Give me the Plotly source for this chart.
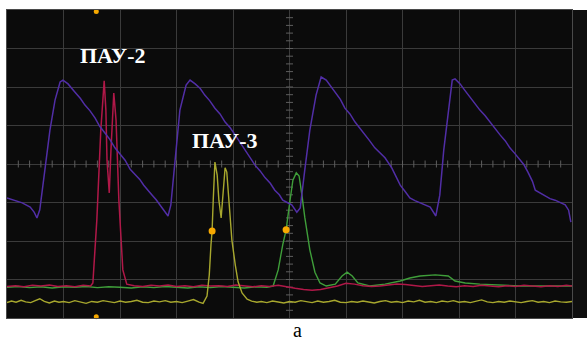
import numpy as np
import plotly.graph_objects as go

# Oscilloscope capture: time and amplitude both in screen divisions
# (10 horizontal x 8 vertical).

# Channel 1 (violet) - sawtooth reference
ch1_t = [0.00, 0.14, 0.27, 0.41, 0.48, 0.53, 0.58, 0.67, 0.76, 0.85, 0.94, 0.99,
         1.08, 1.20, 1.30, 1.38, 1.47, 1.56, 1.64, 1.73, 1.82, 1.91, 2.00, 2.09,
         2.18, 2.27, 2.35, 2.42, 2.50, 2.57, 2.64, 2.71, 2.81, 2.85, 2.90, 2.97,
         3.06, 3.17, 3.24, 3.33, 3.42, 3.50, 3.59, 3.68, 3.77, 3.86, 3.95, 4.04,
         4.12, 4.21, 4.30, 4.39, 4.48, 4.57, 4.66, 4.74, 4.82, 4.88, 4.96, 5.04,
         5.13, 5.19, 5.27, 5.36, 5.47, 5.56, 5.65, 5.73, 5.81, 5.90, 5.98, 6.07,
         6.16, 6.25, 6.34, 6.42, 6.51, 6.60, 6.69, 6.81, 6.90, 6.96, 7.05, 7.13,
         7.22, 7.31, 7.40, 7.49, 7.59, 7.66, 7.73, 7.81, 7.88, 7.93, 8.02, 8.10,
         8.19, 8.28, 8.37, 8.46, 8.55, 8.64, 8.73, 8.82, 8.90, 8.99, 9.08, 9.15,
         9.22, 9.30, 9.35, 9.44, 9.52, 9.61, 9.70, 9.79, 9.88, 9.94, 9.98]
ch1_v = [3.12, 3.06, 2.99, 2.88, 2.75, 2.60, 2.81, 3.84, 4.88, 5.66, 6.13, 6.18,
         6.08, 5.87, 5.70, 5.53, 5.38, 5.19, 4.98, 4.81, 4.64, 4.42, 4.27, 4.10,
         3.86, 3.71, 3.60, 3.45, 3.30, 3.19, 3.07, 2.94, 2.75, 2.65, 2.94, 4.10,
         5.40, 6.05, 6.18, 6.08, 5.96, 5.79, 5.64, 5.45, 5.30, 5.09, 4.94, 4.75,
         4.57, 4.36, 4.19, 3.97, 3.82, 3.64, 3.50, 3.32, 3.20, 3.06, 3.00, 2.94,
         2.75, 2.86, 3.84, 4.88, 5.79, 6.26, 6.18, 6.02, 5.87, 5.68, 5.45, 5.30,
         5.09, 4.93, 4.75, 4.60, 4.42, 4.30, 4.16, 3.90, 3.62, 3.45, 3.28, 3.12,
         3.05, 2.99, 2.95, 2.88, 2.65, 3.19, 4.36, 5.40, 6.18, 6.21, 6.08, 5.92,
         5.74, 5.58, 5.40, 5.26, 5.09, 4.90, 4.75, 4.60, 4.42, 4.27, 4.10, 3.98,
         3.79, 3.55, 3.32, 3.24, 3.17, 3.10, 3.06, 3.00, 2.94, 2.80, 2.49]

# Channel 2 (crimson) - ПАУ-2 double pulse
ch2_t = [0.00, 0.15, 0.30, 0.45, 0.60, 0.75, 0.90, 1.05, 1.20, 1.35, 1.48,
         1.52, 1.59, 1.66, 1.72, 1.75, 1.77, 1.81, 1.84, 1.89, 1.93, 1.98,
         2.05, 2.12, 2.25, 2.40, 2.55, 2.70, 2.85, 3.00, 3.15, 3.30, 3.45,
         3.60, 3.75, 3.90, 4.05, 4.20, 4.35, 4.50, 4.65, 4.80, 4.95, 5.10,
         5.25, 5.40, 5.55, 5.70, 5.85, 6.00, 6.15, 6.30, 6.45, 6.60, 6.75,
         6.90, 7.05, 7.20, 7.35, 7.50, 7.65, 7.80, 7.95, 8.10, 8.25, 8.40,
         8.55, 8.70, 8.85, 9.00, 9.15, 9.30, 9.45, 9.60, 9.75, 9.90, 10.00]
ch2_v = [0.82, 0.84, 0.81, 0.85, 0.83, 0.86, 0.82, 0.84, 0.81, 0.85, 0.83,
         0.91, 2.55, 4.88, 6.16, 5.40, 4.10, 3.25, 4.36, 5.84, 5.14, 3.06,
         1.25, 0.88, 0.84, 0.82, 0.85, 0.83, 0.86, 0.82, 0.84, 0.81, 0.85,
         0.83, 0.84, 0.82, 0.86, 0.83, 0.81, 0.84, 0.82, 0.85, 0.80, 0.77,
         0.74, 0.72, 0.74, 0.78, 0.83, 0.90, 0.88, 0.84, 0.82, 0.83, 0.85,
         0.88, 0.87, 0.85, 0.82, 0.84, 0.86, 0.83, 0.81, 0.84, 0.82, 0.85,
         0.83, 0.81, 0.84, 0.82, 0.85, 0.83, 0.81, 0.84, 0.82, 0.85, 0.83]

# Channel 3 (yellow) - ПАУ-3 double pulse
ch3_t = [0.00, 0.08, 0.16, 0.25, 0.33, 0.42, 0.50, 0.58, 0.66, 0.75, 0.84,
         0.92, 1.00, 1.10, 1.20, 1.30, 1.40, 1.50, 1.60, 1.70, 1.80, 1.90,
         2.00, 2.10, 2.20, 2.30, 2.40, 2.50, 2.60, 2.70, 2.80, 2.90, 3.00,
         3.10, 3.20, 3.30, 3.40, 3.47,
         3.54, 3.58, 3.61, 3.63, 3.65, 3.68, 3.72, 3.75, 3.79, 3.82, 3.86,
         3.89, 3.93, 3.98, 4.04, 4.09, 4.16, 4.25, 4.33,
         4.42, 4.50, 4.60, 4.70, 4.80, 4.90, 5.00, 5.10, 5.20, 5.30, 5.40,
         5.50, 5.60, 5.70, 5.80, 5.90, 6.00, 6.10, 6.20, 6.30, 6.40, 6.50,
         6.60, 6.70, 6.80, 6.90, 7.00, 7.10, 7.20, 7.30, 7.40, 7.50, 7.60,
         7.70, 7.80, 7.90, 8.00, 8.10, 8.20, 8.30, 8.40, 8.50, 8.60, 8.70,
         8.80, 8.90, 9.00, 9.10, 9.20, 9.30, 9.40, 9.50, 9.60, 9.70, 9.80,
         9.90, 10.00]
ch3_v = [0.40, 0.44, 0.41, 0.46, 0.42, 0.40, 0.45, 0.50, 0.43, 0.39, 0.44,
         0.41, 0.43, 0.40, 0.45, 0.42, 0.38, 0.43, 0.41, 0.45, 0.42, 0.40,
         0.44, 0.41, 0.43, 0.46, 0.41, 0.40, 0.44, 0.42, 0.45, 0.41, 0.43,
         0.40, 0.44, 0.48, 0.41, 0.38,
         0.57, 1.12, 1.90, 2.26, 3.06, 4.05, 3.71, 3.06, 2.60, 3.19, 3.90,
         3.79, 2.94, 2.03, 1.38, 0.94, 0.65, 0.49, 0.44,
         0.41, 0.43, 0.40, 0.44, 0.42, 0.39, 0.43, 0.41, 0.45, 0.42, 0.40,
         0.44, 0.41, 0.43, 0.46, 0.41, 0.40, 0.43, 0.41, 0.44, 0.42, 0.39,
         0.43, 0.45, 0.41, 0.43, 0.40, 0.44, 0.42, 0.46, 0.41, 0.43, 0.40,
         0.44, 0.42, 0.45, 0.41, 0.43, 0.40, 0.44, 0.47, 0.42, 0.40, 0.43,
         0.41, 0.44, 0.42, 0.40, 0.43, 0.45, 0.41, 0.43, 0.40, 0.44, 0.42,
         0.41, 0.43]

# Channel 4 (green) - delayed response
ch4_t = [0.00, 0.20, 0.40, 0.60, 0.80, 1.00, 1.20, 1.40, 1.60, 1.80, 2.00,
         2.20, 2.40, 2.60, 2.80, 3.00, 3.20, 3.40, 3.60, 3.80, 4.00, 4.20,
         4.40, 4.60, 4.71, 4.80, 4.88, 4.94, 5.01, 5.06, 5.12, 5.17, 5.22,
         5.27, 5.36, 5.45, 5.54, 5.65, 5.81, 5.93, 6.02, 6.11, 6.21, 6.42,
         6.69, 6.96, 7.13, 7.31, 7.58, 7.81, 7.93, 8.11, 8.37, 8.73, 9.08,
         9.52, 10.00]
ch4_v = [0.80, 0.82, 0.79, 0.81, 0.78, 0.81, 0.80, 0.82, 0.79, 0.81, 0.80,
         0.78, 0.81, 0.79, 0.82, 0.80, 0.78, 0.81, 0.79, 0.82, 0.80, 0.78,
         0.81, 0.80, 0.83, 1.25, 1.90, 2.29, 3.06, 3.58, 3.77, 3.69, 3.19,
         2.62, 1.77, 1.19, 0.91, 0.83, 0.88, 1.09, 1.19, 1.09, 0.91, 0.83,
         0.88, 0.96, 1.04, 1.09, 1.12, 1.09, 0.96, 0.91, 0.88, 0.86, 0.83,
         0.83, 0.83]

# Cursor / trigger markers
cursor_t = [3.63, 4.94]
cursor_v = [2.26, 2.29]
trig_t = [1.58, 1.58]
trig_v = [7.96, 0.03]

labels = ["ПАУ-2", "ПАУ-3"]
label_t = [1.87, 3.86]
label_v = [6.81, 4.62]

SERIF = "Liberation Serif"

fig = go.Figure()

# graticule centre-line subdivisions
sub_x = np.arange(0.2, 10.0, 0.2)
sub_y = np.arange(0.2, 8.0, 0.2)
fig.add_trace(go.Scatter(x=sub_x, y=[4] * len(sub_x), mode="markers",
                         marker=dict(symbol="line-ns", size=5,
                                     line=dict(color="#5e5e5e", width=1)),
                         hoverinfo="skip"))
fig.add_trace(go.Scatter(x=[5] * len(sub_y), y=sub_y, mode="markers",
                         marker=dict(symbol="line-ew", size=5,
                                     line=dict(color="#5e5e5e", width=1)),
                         hoverinfo="skip"))

fig.add_trace(go.Scatter(x=ch4_t, y=ch4_v, mode="lines",
                         line=dict(color="#3f9e3a", width=1.4)))
fig.add_trace(go.Scatter(x=ch2_t, y=ch2_v, mode="lines",
                         line=dict(color="#b01848", width=1.5)))
fig.add_trace(go.Scatter(x=ch3_t, y=ch3_v, mode="lines",
                         line=dict(color="#a8a82e", width=1.4)))
fig.add_trace(go.Scatter(x=ch1_t, y=ch1_v, mode="lines",
                         line=dict(color="#512ea6", width=1.5)))

fig.add_trace(go.Scatter(x=cursor_t, y=cursor_v, mode="markers",
                         marker=dict(color="#f7a900", size=7)))
fig.add_trace(go.Scatter(x=trig_t, y=trig_v, mode="markers", cliponaxis=False,
                         marker=dict(color="#f7a900", size=5)))

# channel tags in the right-hand strip
tag_t = [10.12, 10.12, 10.23, 10.12, 10.12]
tag_v = [3.30, 1.71, 1.71, 0.75, 0.36]
tag_c = ["#7a3cf0", "#d8205a", "#d8205a", "#e8d8e0", "#e0e030"]
fig.add_trace(go.Scatter(x=tag_t, y=tag_v, mode="markers", cliponaxis=False,
                         marker=dict(color=tag_c, size=5)))

for txt, t, v in zip(labels, label_t, label_v):
    fig.add_annotation(x=t, y=v, text="<b>" + txt + "</b>", showarrow=False,
                       font=dict(family=SERIF, size=22, color="white"))

fig.add_annotation(xref="paper", yref="paper", x=0.515, y=-0.040,
                   text="а", showarrow=False, yanchor="middle",
                   font=dict(family=SERIF, size=20, color="black"))

# dark side panel of the scope screen
fig.add_shape(type="rect", xref="paper", yref="paper", x0=1.0,
              x1=1 + 15 / 565, y0=0, y1=1, fillcolor="#0f0f0f",
              line=dict(width=0), layer="below")

axis_common = dict(showgrid=True, gridcolor="#3b3b3b", gridwidth=1,
                   zeroline=False, showticklabels=False, ticks="",
                   showline=True, linecolor="#4a4a4a", linewidth=1,
                   mirror=True, fixedrange=True)
fig.update_layout(
    width=587, height=341,
    margin=dict(l=7, r=15, t=10, b=23),
    paper_bgcolor="white", plot_bgcolor="#0b0b0b",
    showlegend=False,
    xaxis=dict(range=[0, 10], dtick=1, **axis_common),
    yaxis=dict(range=[0, 8], dtick=1, **axis_common),
)

fig.write_html("out.html")
